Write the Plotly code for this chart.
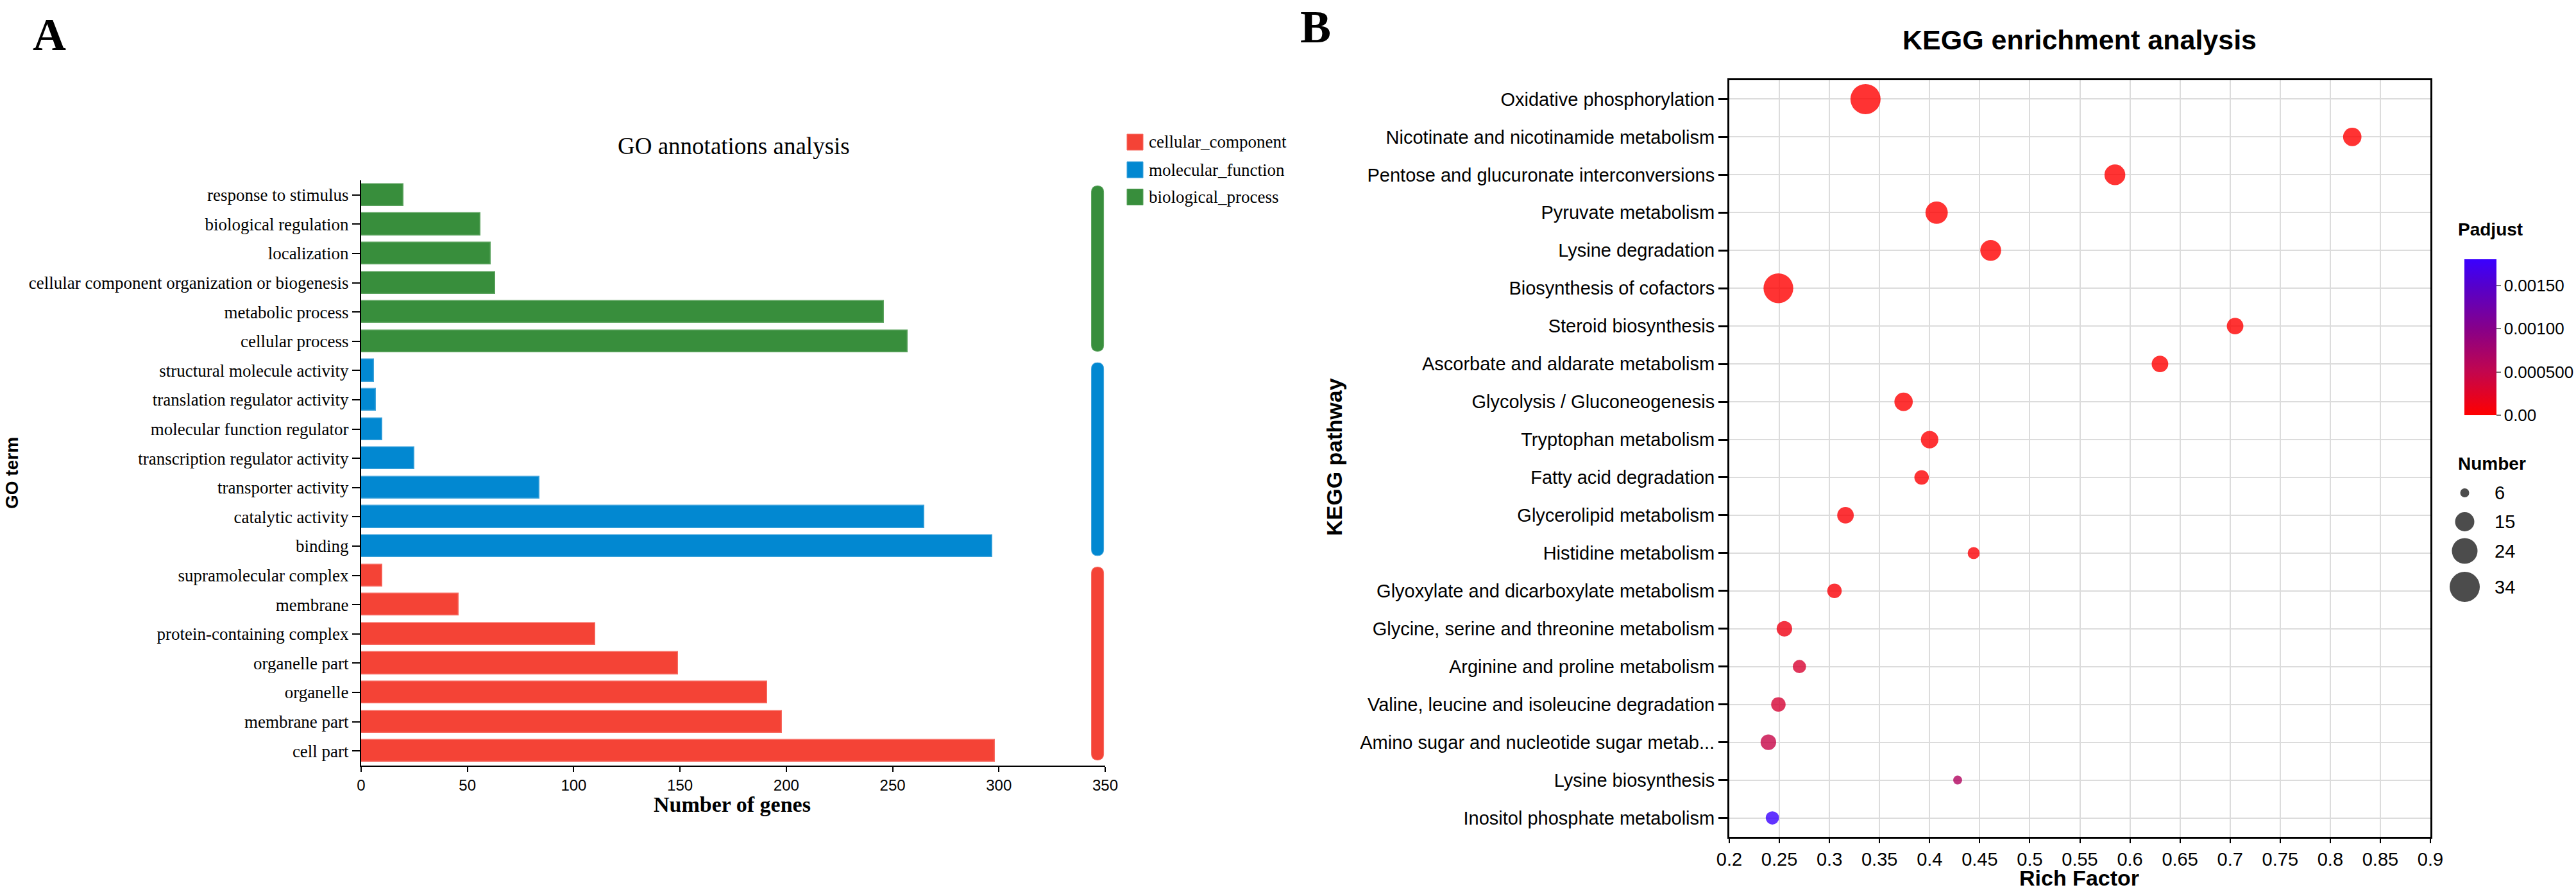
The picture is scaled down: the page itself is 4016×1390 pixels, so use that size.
import numpy as np
import plotly.graph_objects as go

W, H = 4016, 1390

# ---------------- Panel A data (GO) ----------------
go_terms = ["cell part", "membrane part", "organelle", "organelle part",
            "protein-containing complex", "membrane", "supramolecular complex",
            "binding", "catalytic activity", "transporter activity",
            "transcription regulator activity", "molecular function regulator",
            "translation regulator activity", "structural molecule activity",
            "cellular process", "metabolic process",
            "cellular component organization or biogenesis", "localization",
            "biological regulation", "response to stimulus"]
go_counts = [298, 198, 191, 149, 110, 46, 10,
             297, 265, 84, 25, 10, 7, 6,
             257, 246, 63, 61, 56, 20]
go_groups = ["cellular_component"] * 7 + ["molecular_function"] * 7 + ["biological_process"] * 6
group_names = ["cellular_component", "molecular_function", "biological_process"]
group_colors = {"cellular_component": "#F44336",
                "molecular_function": "#0288D1",
                "biological_process": "#388E3C"}
group_edge = {"cellular_component": "#F76A60",
              "molecular_function": "#3FA3DB",
              "biological_process": "#5CA35F"}
go_xticks = [0, 50, 100, 150, 200, 250, 300, 350]

# ---------------- Panel B data (KEGG) ----------------
pathways = ["Oxidative phosphorylation", "Nicotinate and nicotinamide metabolism",
            "Pentose and glucuronate interconversions", "Pyruvate metabolism",
            "Lysine degradation", "Biosynthesis of cofactors", "Steroid biosynthesis",
            "Ascorbate and aldarate metabolism", "Glycolysis / Gluconeogenesis",
            "Tryptophan metabolism", "Fatty acid degradation", "Glycerolipid metabolism",
            "Histidine metabolism", "Glyoxylate and dicarboxylate metabolism",
            "Glycine, serine and threonine metabolism", "Arginine and proline metabolism",
            "Valine, leucine and isoleucine degradation",
            "Amino sugar and nucleotide sugar metab...", "Lysine biosynthesis",
            "Inositol phosphate metabolism"]
rich_factor = [0.336, 0.822, 0.585, 0.407, 0.461, 0.249, 0.705, 0.630, 0.374, 0.400,
               0.392, 0.316, 0.444, 0.305, 0.255, 0.270, 0.249, 0.239, 0.428, 0.243]
gene_number = [34, 14, 17, 19, 17, 33, 12, 12, 14, 13,
               10, 12, 8, 10, 11, 9, 10, 11, 6, 9]
padjust = [1e-12, 1e-9, 1e-9, 1e-8, 1e-7, 1e-6, 1e-7, 1e-6, 5e-6, 1e-5,
           2e-5, 3e-5, 3e-5, 4e-5, 1.2e-4, 3.2e-4, 3.4e-4, 4.6e-4, 6.5e-4, 1.8e-3]
kegg_xticks = [0.2, 0.25, 0.3, 0.35, 0.4, 0.45, 0.5, 0.55, 0.6, 0.65, 0.7, 0.75, 0.8, 0.85, 0.9]
kegg_xticklabels = ["0.2", "0.25", "0.3", "0.35", "0.4", "0.45", "0.5", "0.55", "0.6",
                    "0.65", "0.7", "0.75", "0.8", "0.85", "0.9"]
cbar_ticks = [0.0, 0.0005, 0.0010, 0.0015]
cbar_ticklabels = ["0.00", "0.000500", "0.00100", "0.00150"]
size_legend_numbers = [6, 15, 24, 34]

# size scale (area ~ count, anchored on legend key diameters)
size_anchor_n = [6, 15, 24, 34]
size_anchor_d2 = [196, 900, 1600, 2209]


def size_px(n):
    return np.sqrt(np.interp(np.asarray(n, dtype=float), size_anchor_n, size_anchor_d2))


SERIF = "Liberation Serif, Times New Roman, serif"
SANS = "Liberation Sans, Arial, sans-serif"


def px(xp):
    return xp / W


def py(yp):
    return 1 - yp / H


fig = go.Figure()

# ---------------- Panel A ----------------
ypos = list(range(len(go_terms)))
for g in group_names:
    idx = [i for i, gg in enumerate(go_groups) if gg == g]
    fig.add_trace(go.Bar(
        x=[go_counts[i] for i in idx], y=[ypos[i] for i in idx],
        orientation="h", width=0.75,
        marker=dict(color=group_colors[g], line=dict(color=group_edge[g], width=1.5)),
        showlegend=False, xaxis="x", yaxis="y"))

# group indicator bars (rounded) on the right, lengths proportional to group sizes
shapes = []
x_center, x_half = 346.4, 2.87
total = len(go_terms)
y_start, y_end, gap = -0.31, 19.31, 0.39
unit = (y_end - y_start - gap * (len(group_names) - 1)) / total
cur = y_start
for g in group_names:
    n = go_groups.count(g)
    y0, y1 = cur, cur + n * unit
    ry = 0.21
    x0, x1 = x_center - x_half, x_center + x_half
    path = (f"M {x0},{y0+ry} L {x0},{y1-ry} Q {x0},{y1} {x_center},{y1} "
            f"Q {x1},{y1} {x1},{y1-ry} L {x1},{y0+ry} Q {x1},{y0} {x_center},{y0} "
            f"Q {x0},{y0} {x0},{y0+ry} Z")
    shapes.append(dict(type="path", path=path, xref="x", yref="y",
                       fillcolor=group_colors[g], line=dict(color=group_edge[g], width=1)))
    cur = y1 + gap

# manual legend for panel A
legend_y = [221.5, 264.5, 307]
annotations = []
for g, yc in zip(group_names, legend_y):
    shapes.append(dict(type="rect", xref="paper", yref="paper",
                       x0=px(1757), x1=px(1782), y0=py(yc + 12.5), y1=py(yc - 12.5),
                       fillcolor=group_colors[g], line=dict(color=group_edge[g], width=1)))
    annotations.append(dict(text=g, x=px(1789), y=py(yc), xref="paper", yref="paper",
                            xanchor="left", yanchor="middle", showarrow=False,
                            font=dict(family=SERIF, size=27, color="black")))

# ---------------- Panel B ----------------
kidx = list(range(len(pathways)))
fig.add_trace(go.Scatter(
    x=rich_factor, y=kidx, mode="markers", xaxis="x2", yaxis="y2", showlegend=False,
    marker=dict(size=size_px(gene_number), sizemode="diameter", color=padjust,
                cmin=0, cmax=0.0018, opacity=0.8, line=dict(width=0),
                colorscale=[[0, "#FF0000"], [0.28, "#C2064E"], [0.55, "#880088"],
                            [0.83, "#5500CC"], [1, "#3A00FF"]],
                colorbar=dict(x=px(3842), xanchor="left", xpad=0,
                              y=py(647), yanchor="bottom", ypad=0,
                              len=243, lenmode="pixels", thickness=50,
                              outlinewidth=0, tickvals=cbar_ticks, ticktext=cbar_ticklabels,
                              ticks="outside", ticklen=7, tickwidth=2, tickcolor="#777",
                              tickfont=dict(family=SANS, size=26, color="black")))))

# size legend (own invisible axes in pixel units)
key_y = [768, 813, 858.5, 914.5]
fig.add_trace(go.Scatter(
    x=[3842.5] * len(size_legend_numbers), y=key_y, mode="markers",
    xaxis="x3", yaxis="y3", showlegend=False, hoverinfo="skip",
    marker=dict(size=size_px(size_legend_numbers), sizemode="diameter", color="black",
                line=dict(width=0))))
for n, yk in zip(size_legend_numbers, key_y):
    annotations.append(dict(text=str(n), x=px(3887), y=py(yk), xref="paper", yref="paper",
                            xanchor="left", yanchor="middle", showarrow=False,
                            font=dict(family=SANS, size=29, color="black")))

# ---------------- Titles / labels ----------------
annotations += [
    dict(text="<b>A</b>", x=px(49), y=py(54), xanchor="left", yanchor="middle",
         font=dict(family=SERIF, size=72, color="black")),
    dict(text="<b>B</b>", x=px(2025), y=1, xanchor="left", yanchor="top",
         font=dict(family=SERIF, size=72, color="black")),
    dict(text="GO annotations analysis", x=px(1144), y=py(228), xanchor="center",
         yanchor="middle", font=dict(family=SERIF, size=37, color="black")),
    dict(text="<b>Number of genes</b>", x=px(1141), y=py(1253), xanchor="center",
         yanchor="middle", font=dict(family=SERIF, size=34, color="black")),
    dict(text="<b>GO term</b>", x=px(19), y=py(737), xanchor="center", yanchor="middle",
         textangle=-90, font=dict(family=SANS, size=28, color="black")),
    dict(text="<b>KEGG enrichment analysis</b>", x=px(3242), y=py(62), xanchor="center",
         yanchor="middle", font=dict(family=SANS, size=43, color="black")),
    dict(text="<b>KEGG pathway</b>", x=px(2080), y=py(712), xanchor="center",
         yanchor="middle", textangle=-90, font=dict(family=SANS, size=34, color="black")),
    dict(text="<b>Rich Factor</b>", x=px(3241), y=py(1368), xanchor="center",
         yanchor="middle", font=dict(family=SANS, size=34, color="black")),
    dict(text="<b>Padjust</b>", x=px(3830), y=py(357), xanchor="left",
         yanchor="middle", font=dict(family=SANS, size=28, color="black")),
    dict(text="<b>Number</b>", x=px(3830), y=py(722), xanchor="left",
         yanchor="middle", font=dict(family=SANS, size=28, color="black")),
]
for a in annotations:
    a.setdefault("xref", "paper")
    a.setdefault("yref", "paper")
    a.setdefault("showarrow", False)

fig.update_layout(
    width=W, height=H, margin=dict(l=0, r=0, t=0, b=0, autoexpand=False),
    paper_bgcolor="white", plot_bgcolor="rgba(0,0,0,0)",
    bargap=0, showlegend=False,
    xaxis=dict(domain=[px(563), px(1723)], range=[0, 350], tickvals=go_xticks,
               showline=True, linecolor="black", linewidth=2, ticks="outside",
               ticklen=8, tickwidth=2, tickcolor="black", showgrid=False, zeroline=False,
               automargin=False,
               tickfont=dict(family=SANS, size=24, color="black"), anchor="y"),
    yaxis=dict(domain=[py(1193), py(281)], range=[-0.5, 19.5], tickvals=ypos,
               ticktext=go_terms, showline=True, linecolor="black", linewidth=2,
               ticks="outside", ticklen=12, tickwidth=2, tickcolor="black",
               showgrid=False, zeroline=False, anchor="x", automargin=False,
               tickfont=dict(family=SERIF, size=27, color="black")),
    xaxis2=dict(domain=[px(2696), px(3789)], range=[0.2, 0.9], tickvals=kegg_xticks,
                ticktext=kegg_xticklabels, showline=True, mirror=True, linecolor="black",
                linewidth=3, ticks="outside", ticklen=7, tickwidth=2, tickcolor="black",
                showgrid=True, gridcolor="#DCDCDC", gridwidth=2, zeroline=False,
                automargin=False,
                tickfont=dict(family=SANS, size=29, color="black"), anchor="y2"),
    yaxis2=dict(domain=[py(1304), py(125)], range=[19.5, -0.5], tickvals=kidx,
                ticktext=pathways, showline=True, mirror=True, linecolor="black",
                linewidth=3, ticks="outside", ticklen=14, tickwidth=3, tickcolor="black",
                showgrid=True, gridcolor="#DCDCDC", gridwidth=2, zeroline=False,
                automargin=False,
                tickfont=dict(family=SANS, size=29, color="black"), anchor="x2"),
    xaxis3=dict(domain=[px(3800), px(3900)], range=[3800, 3900], visible=False,
                anchor="y3", automargin=False),
    yaxis3=dict(domain=[py(960), py(730)], range=[960, 730], visible=False, anchor="x3",
                automargin=False),
    shapes=shapes, annotations=annotations,
)

fig.write_html("out.html")
